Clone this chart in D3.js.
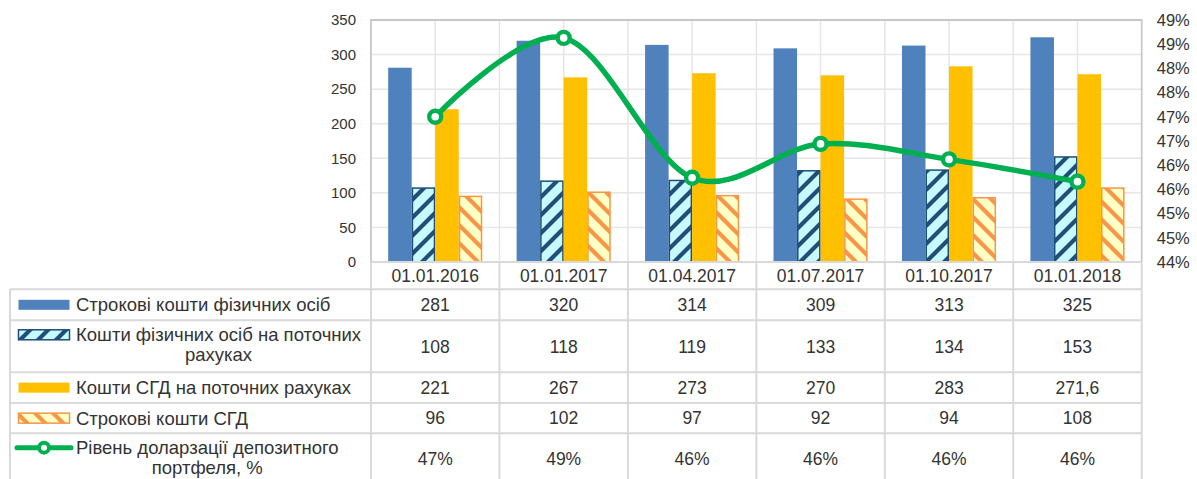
<!DOCTYPE html>
<html>
<head>
<meta charset="utf-8">
<script src="https://cdn.jsdelivr.net/npm/d3@7"></script>
<style>
  html, body { margin: 0; padding: 0; background: #fff; }
  svg { display: block; font-family: "Liberation Sans", Arial, sans-serif; }
</style>
</head>
<body>
<svg id="chart" width="1197" height="479"></svg>
<script>
// Reporting dates
const categories = ["01.01.2016", "01.01.2017", "01.04.2017", "01.07.2017", "01.10.2017", "01.01.2018"];

// Deposits, bars (left axis)
const termIndividuals    = [281, 320, 314, 309, 313, 325];
const currentIndividuals = [108, 118, 119, 133, 134, 153];
const currentCorporate   = [221, 267, 273, 270, 283, 271.6];
const termCorporate      = [96, 102, 97, 92, 94, 108];

// Dollarization of the deposit portfolio, % (right axis)
const dollarization = [47.0, 48.63, 45.74, 46.44, 46.12, 45.66];

// Axis ticks
const leftTicks = [0, 50, 100, 150, 200, 250, 300, 350];
const rightTicks = [44, 44.5, 45, 45.5, 46, 46.5, 47, 47.5, 48, 48.5, 49];

// Legend labels, split into the lines shown in the table
const rowLabels = [
  ["Строкові кошти фізичних осіб"],
  ["Кошти фізичних осіб на поточних", "рахуках"],
  ["Кошти СГД на поточних рахуках"],
  ["Строкові кошти СГД"],
  ["Рівень доларзації депозитного", "портфеля, %"]
];

// ---- layout ----
const plot = { left: 371, right: 1141.7, top: 20, bottom: 262 };
const tableLeft = 10;
const rowLines = [289.3, 320.3, 372.3, 403, 433.3, 485];
const gridColor = "#e6e6e6";
const tableColor = "#d9d9d9";
const textColor = "#333333";
const colors = {
  blue: "#4f81bd",
  navy: "#1f4e79",
  cyan: "#c8fbff",
  gold: "#ffc000",
  orange: "#f79646",
  cream: "#ffffc6",
  green: "#00b050"
};

const svg = d3.select("#chart");

// hatch fills
const defs = svg.append("defs");
const hb = defs.append("pattern").attr("id", "hatchBlue")
  .attr("patternUnits", "userSpaceOnUse").attr("width", 18).attr("height", 18);
hb.append("rect").attr("width", 18).attr("height", 18).attr("fill", colors.cyan);
hb.append("path").attr("d", "M0,18 L18,0 M-4.5,4.5 L4.5,-4.5 M13.5,22.5 L22.5,13.5")
  .attr("stroke", colors.navy).attr("stroke-width", 4.2);

const ho = defs.append("pattern").attr("id", "hatchOrange")
  .attr("patternUnits", "userSpaceOnUse").attr("width", 18).attr("height", 18);
ho.append("rect").attr("width", 18).attr("height", 18).attr("fill", colors.cream);
ho.append("path").attr("d", "M0,0 L18,18 M-4.5,13.5 L4.5,22.5 M13.5,-4.5 L22.5,4.5")
  .attr("stroke", colors.orange).attr("stroke-width", 4.2);

// scales
const x = d3.scaleBand().domain(categories).range([plot.left, plot.right]).paddingInner(0).paddingOuter(0);
const xs = d3.scaleBand().domain([0, 1, 2, 3]).range([0, x.bandwidth()]).paddingInner(0).paddingOuter(0.73);
const yL = d3.scaleLinear().domain([0, 350]).range([plot.bottom, plot.top]);
const yR = d3.scaleLinear().domain([44, 49]).range([plot.bottom, plot.top]);

// gridlines
const grid = svg.append("g");
grid.selectAll("line.h").data(leftTicks.slice(1)).join("line")
  .attr("x1", plot.left).attr("x2", plot.right)
  .attr("y1", d => yL(d)).attr("y2", d => yL(d))
  .attr("stroke", gridColor).attr("stroke-width", 1.5);
const vLines = [];
categories.forEach(c => { vLines.push(x(c)); vLines.push(x(c) + x.bandwidth() / 2); });
grid.selectAll("line.v").data(vLines.slice(1)).join("line")
  .attr("x1", d => d).attr("x2", d => d)
  .attr("y1", plot.top).attr("y2", plot.bottom)
  .attr("stroke", gridColor).attr("stroke-width", 1.5);

// bars
const barSeries = [
  { values: termIndividuals, fill: colors.blue, stroke: "none" },
  { values: currentIndividuals, fill: "url(#hatchBlue)", stroke: colors.navy },
  { values: currentCorporate, fill: colors.gold, stroke: "none" },
  { values: termCorporate, fill: "url(#hatchOrange)", stroke: colors.orange }
];
const bars = svg.append("g");
barSeries.forEach((s, si) => {
  const inset = s.stroke === "none" ? 0 : 0.75;
  bars.append("g").selectAll("rect").data(s.values).join("rect")
    .attr("x", (d, i) => x(categories[i]) + xs(si) + inset)
    .attr("width", xs.bandwidth() - 2 * inset)
    .attr("y", d => yL(d) + inset)
    .attr("height", d => yL(0) - yL(d) - inset)
    .attr("fill", s.fill)
    .attr("stroke", s.stroke)
    .attr("stroke-width", 1.5);
});

// plot frame
svg.append("path")
  .attr("d", `M${plot.left},${plot.bottom} V${plot.top} H${plot.right} V${plot.bottom}`)
  .attr("fill", "none").attr("stroke", "#c8c8c8").attr("stroke-width", 1.8);

// dollarization line
const linePts = dollarization.map((v, i) => [x(categories[i]) + x.bandwidth() / 2, yR(v)]);
svg.append("path")
  .attr("d", d3.line().curve(d3.curveCardinal.tension(0))(linePts))
  .attr("fill", "none").attr("stroke", colors.green).attr("stroke-width", 5.5)
  .attr("stroke-linecap", "round");
svg.append("g").selectAll("circle").data(linePts).join("circle")
  .attr("cx", d => d[0]).attr("cy", d => d[1]).attr("r", 6)
  .attr("fill", "#fff").attr("stroke", colors.green).attr("stroke-width", 4.4);

// axes
const axL = svg.append("g").attr("transform", `translate(${plot.left},0)`)
  .call(d3.axisLeft(yL).tickValues(leftTicks).tickSize(0).tickPadding(15));
axL.select(".domain").remove();
axL.selectAll("text").attr("font-size", 15).attr("fill", textColor)
  .attr("font-family", "Liberation Sans, Arial, sans-serif");

const axR = svg.append("g").attr("transform", `translate(${plot.right},0)`)
  .call(d3.axisRight(yR).tickValues(rightTicks).tickSize(0).tickPadding(15)
    .tickFormat(d => Math.round(d) + "%"));
axR.select(".domain").remove();
axR.selectAll("text").attr("font-size", 16.5).attr("fill", textColor)
  .attr("font-family", "Liberation Sans, Arial, sans-serif");

// ---- data table ----
const table = svg.append("g");
const tableBottom = rowLines[rowLines.length - 1];
table.selectAll("line.row").data(rowLines.slice(0, -1)).join("line")
  .attr("x1", tableLeft).attr("x2", plot.right)
  .attr("y1", d => d).attr("y2", d => d)
  .attr("stroke", tableColor).attr("stroke-width", 2);
table.append("line").attr("x1", plot.left).attr("x2", plot.right)
  .attr("y1", plot.bottom).attr("y2", plot.bottom)
  .attr("stroke", tableColor).attr("stroke-width", 2);
const colLines = categories.map(c => x(c)).concat([plot.right]);
table.selectAll("line.col").data(colLines).join("line")
  .attr("x1", d => d).attr("x2", d => d)
  .attr("y1", plot.bottom).attr("y2", tableBottom)
  .attr("stroke", tableColor).attr("stroke-width", 2);
table.append("line").attr("x1", tableLeft).attr("x2", tableLeft)
  .attr("y1", rowLines[0]).attr("y2", tableBottom)
  .attr("stroke", tableColor).attr("stroke-width", 2);

const fsTable = 17.5;
table.selectAll("text.cat").data(categories).join("text")
  .attr("x", d => x(d) + x.bandwidth() / 2)
  .attr("y", (plot.bottom + rowLines[0]) / 2 + fsTable * 0.36)
  .attr("text-anchor", "middle").attr("font-size", fsTable).attr("fill", textColor)
  .text(d => d);

const fmtNum = v => Number.isInteger(v) ? String(v) : String(v).replace(".", ",");
const fmtPct = v => Math.round(v) + "%";
const rowValues = [
  termIndividuals.map(fmtNum),
  currentIndividuals.map(fmtNum),
  currentCorporate.map(fmtNum),
  termCorporate.map(fmtNum),
  dollarization.map(fmtPct)
];
const fsLegend = 18.5;
const lineGap = 20;
const textX = 76;

rowValues.forEach((vals, r) => {
  const top = rowLines[r], bottom = rowLines[r + 1];
  const cy = (top + bottom) / 2;
  table.append("g").selectAll("text").data(vals).join("text")
    .attr("x", (d, i) => x(categories[i]) + x.bandwidth() / 2)
    .attr("y", cy + fsTable * 0.36)
    .attr("text-anchor", "middle").attr("font-size", fsTable).attr("fill", textColor)
    .text(d => d);

  const lines = rowLabels[r];
  const firstY = lines.length === 1 ? cy : cy - 11.5;
  const t1 = table.append("text")
    .attr("x", textX).attr("y", firstY + fsLegend * 0.36)
    .attr("font-size", fsLegend).attr("fill", textColor).text(lines[0]);
  if (lines.length > 1) {
    const w1 = t1.node().getComputedTextLength();
    table.append("text")
      .attr("x", textX + w1 / 2).attr("y", firstY + lineGap + fsLegend * 0.36)
      .attr("text-anchor", "middle")
      .attr("font-size", fsLegend).attr("fill", textColor).text(lines[1]);
  }

  // legend keys
  const ky = firstY;
  if (r < 4) {
    const s = barSeries[r];
    table.append("rect")
      .attr("x", 18.5).attr("y", ky - 5).attr("width", 51).attr("height", 10)
      .attr("fill", s.fill).attr("stroke", s.stroke).attr("stroke-width", 1.5);
  } else {
    table.append("line").attr("x1", 17).attr("x2", 71).attr("y1", ky).attr("y2", ky)
      .attr("stroke", colors.green).attr("stroke-width", 5).attr("stroke-linecap", "round");
    table.append("circle").attr("cx", 44).attr("cy", ky).attr("r", 5)
      .attr("fill", "#fff").attr("stroke", colors.green).attr("stroke-width", 4);
  }
});
</script>
</body>
</html>
